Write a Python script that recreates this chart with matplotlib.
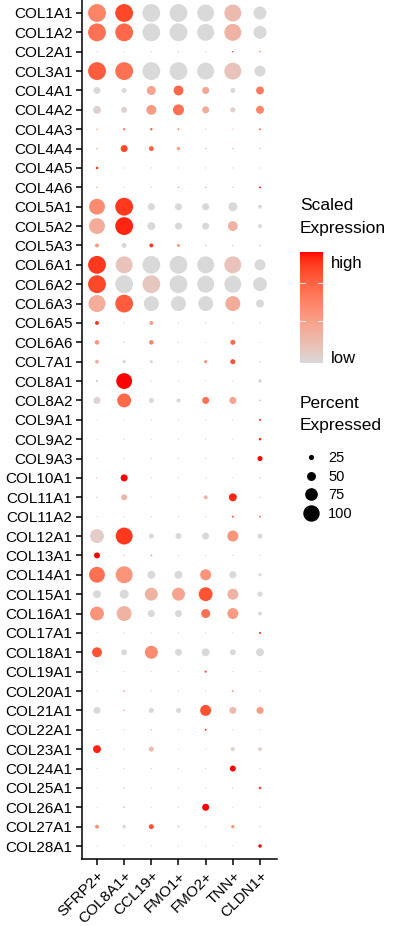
import numpy as np
import matplotlib
matplotlib.use("Agg")
import matplotlib.pyplot as plt
from matplotlib.colors import ListedColormap
from matplotlib.lines import Line2D

plt.rcParams['font.family'] = ['Liberation Sans', 'DejaVu Sans']

clusters = ["SFRP2+", "COL8A1+", "CCL19+", "FMO1+", "FMO2+", "TNN+", "CLDN1+"]
genes = ["COL1A1", "COL1A2", "COL2A1", "COL3A1", "COL4A1", "COL4A2", "COL4A3",
         "COL4A4", "COL4A5", "COL4A6", "COL5A1", "COL5A2", "COL5A3", "COL6A1",
         "COL6A2", "COL6A3", "COL6A5", "COL6A6", "COL7A1", "COL8A1", "COL8A2",
         "COL9A1", "COL9A2", "COL9A3", "COL10A1", "COL11A1", "COL11A2", "COL12A1",
         "COL13A1", "COL14A1", "COL15A1", "COL16A1", "COL17A1", "COL18A1",
         "COL19A1", "COL20A1", "COL21A1", "COL22A1", "COL23A1", "COL24A1",
         "COL25A1", "COL26A1", "COL27A1", "COL28A1"]

# percent expressed, one row per gene (cluster order as above)
pct = [
    [99, 99, 99, 99, 94, 94, 72],
    [99, 99, 99, 99, 94, 94, 72],
    [6, 6, 6, 6, 6, 8, 8],
    [99, 99, 99, 99, 94, 94, 61],
    [39, 28, 50, 55, 39, 28, 44],
    [44, 33, 55, 61, 39, 28, 44],
    [8, 14, 14, 11, 6, 6, 11],
    [8, 39, 28, 19, 8, 8, 8],
    [14, 6, 6, 6, 6, 6, 6],
    [8, 6, 6, 8, 8, 6, 11],
    [88, 99, 39, 39, 39, 50, 22],
    [88, 99, 44, 39, 39, 55, 22],
    [22, 28, 22, 17, 8, 8, 8],
    [99, 94, 99, 99, 94, 94, 61],
    [99, 99, 99, 99, 94, 94, 77],
    [94, 99, 83, 83, 83, 83, 44],
    [22, 6, 22, 6, 6, 6, 6],
    [25, 8, 25, 8, 6, 28, 6],
    [22, 17, 17, 8, 17, 28, 8],
    [14, 88, 6, 6, 6, 6, 19],
    [39, 77, 28, 22, 39, 39, 11],
    [6, 6, 6, 6, 6, 6, 11],
    [6, 6, 6, 6, 6, 6, 14],
    [6, 6, 6, 6, 6, 6, 28],
    [8, 39, 6, 6, 6, 6, 8],
    [8, 33, 6, 6, 22, 44, 8],
    [6, 6, 6, 6, 6, 11, 11],
    [77, 94, 28, 33, 39, 61, 28],
    [33, 8, 11, 6, 6, 6, 6],
    [88, 94, 44, 44, 61, 39, 17],
    [44, 50, 72, 72, 77, 61, 28],
    [77, 83, 39, 39, 50, 61, 22],
    [6, 6, 6, 6, 6, 6, 11],
    [55, 33, 72, 39, 44, 33, 44],
    [6, 6, 6, 6, 11, 6, 6],
    [6, 8, 6, 6, 6, 8, 6],
    [39, 11, 28, 28, 61, 39, 39],
    [6, 6, 8, 6, 11, 6, 6],
    [44, 8, 28, 6, 6, 22, 22],
    [6, 6, 6, 6, 6, 33, 6],
    [6, 8, 6, 6, 6, 8, 14],
    [6, 11, 6, 6, 39, 6, 6],
    [22, 19, 28, 11, 8, 19, 8],
    [6, 6, 6, 6, 6, 6, 19],
]

# scaled expression 0 (low) .. 1 (high)
expr = [
    [.55, .85, 0, 0, 0, .2, 0],
    [.65, .7, 0, 0, 0, .25, 0],
    [.3, .3, .3, .5, .3, .9, .7],
    [.75, .65, 0, 0, 0, .15, 0],
    [0, 0, .35, .7, .35, 0, .6],
    [.05, .05, .4, .65, .3, .05, .55],
    [.4, .5, .7, .5, .3, .3, .6],
    [.3, .85, .7, .4, .2, .2, .2],
    [.9, .3, .3, .3, .3, .3, .3],
    [.4, .2, .3, .4, .3, .3, .9],
    [.5, .9, 0, 0, 0, 0, 0],
    [.3, .95, 0, 0, 0, .25, 0],
    [.4, 0, .9, .4, .2, .2, .2],
    [.9, .15, 0, 0, 0, .15, 0],
    [.85, 0, .12, 0, 0, 0, 0],
    [.3, .75, 0, 0, 0, .3, 0],
    [.9, .2, .4, .2, .2, .2, .2],
    [.45, .1, .55, .1, .1, .7, .1],
    [.25, .05, .05, .05, .5, .8, .1],
    [.05, 1, .1, .1, .1, .1, .05],
    [.03, .7, 0, 0, .65, .35, .05],
    [.2, .2, .2, .2, .2, .2, .95],
    [.2, .2, .2, .2, .2, .2, .95],
    [.2, .2, .2, .2, .2, .2, 1],
    [.2, 1, .2, .2, .2, .2, .2],
    [.1, .25, .1, .1, .25, .95, .1],
    [.2, .2, .2, .2, .2, .8, .6],
    [.08, .9, 0, 0, 0, .45, 0],
    [1, .1, .3, .2, .2, .2, .2],
    [.65, .45, 0, 0, .45, 0, 0],
    [0, 0, .25, .35, .8, .25, 0],
    [.45, .25, 0, 0, .65, .4, 0],
    [.2, .2, .2, .2, .2, .2, .95],
    [.8, 0, .5, 0, 0, 0, 0],
    [.2, .2, .2, .2, .9, .2, .2],
    [.2, .6, .2, .2, .2, .8, .2],
    [0, .1, 0, 0, .8, .2, .4],
    [.2, .2, .2, .2, .85, .2, .2],
    [.95, .1, .2, .1, .1, .05, .05],
    [.2, .2, .2, .2, .2, 1, .2],
    [.2, .2, .2, .2, .2, .1, .9],
    [.2, .1, .2, .2, 1, .2, .2],
    [.45, .05, .8, .1, .1, .4, .1],
    [.2, .2, .2, .2, .2, .2, 1],
]

legend_pct = [25, 50, 75, 100]

M = np.array([[0.4124, 0.3576, 0.1805],
              [0.2126, 0.7152, 0.0722],
              [0.0193, 0.1192, 0.9505]])
WHITE = np.array([0.95047, 1.0, 1.08883])


def rgb2lab(rgb):
    c = np.asarray(rgb, float)
    lin = np.where(c <= 0.04045, c / 12.92, ((c + 0.055) / 1.055) ** 2.4)
    xyz = M @ lin / WHITE
    f = np.where(xyz > 0.008856, np.cbrt(xyz), 7.787 * xyz + 16 / 116)
    return np.array([116 * f[1] - 16, 500 * (f[0] - f[1]), 200 * (f[1] - f[2])])


def lab2rgb(lab):
    L, a, b = lab
    fy = (L + 16) / 116
    f = np.array([fy + a / 500, fy, fy - b / 200])
    xyz = np.where(f > 0.2069, f ** 3, (f - 16 / 116) / 7.787) * WHITE
    lin = np.linalg.solve(M, xyz)
    c = np.where(lin <= 0.0031308, 12.92 * lin, 1.055 * np.clip(lin, 0, None) ** (1 / 2.4) - 0.055)
    return np.clip(c, 0, 1)


def lab_cmap(c0, c1, n=256):
    l0, l1 = rgb2lab(c0), rgb2lab(c1)
    cols = [lab2rgb(l0 + (l1 - l0) * t) for t in np.linspace(0, 1, n)]
    return ListedColormap(cols)


def dot_size(p, k=0.18):
    # diameter in px -> marker area in pt^2 (dpi 100)
    d = np.asarray(p) * k * 72 / 100
    return d ** 2


def main():
    cmap = lab_cmap([0.85, 0.85, 0.85], [1, 0, 0])
    fig = plt.figure(figsize=(3.96, 9.26), dpi=100)
    ax = fig.add_axes([82 / 396, 1 - 859 / 926, 195 / 396, 859 / 926])

    P = np.array(pct, dtype=float)
    E = np.array(expr, dtype=float)
    yy, xx = np.meshgrid(np.arange(len(genes)), np.arange(len(clusters)), indexing="ij")
    ax.scatter(xx.ravel(), yy.ravel(), s=dot_size(P.ravel()), c=E.ravel(),
               cmap=cmap, vmin=0, vmax=1, linewidths=0)

    ax.set_xlim(-0.552, 6.626)
    ax.set_ylim(43.67, -0.67)
    ax.set_yticks(range(len(genes)))
    ax.set_yticklabels(genes, fontsize=11)
    ax.set_xticks(range(len(clusters)))
    ax.set_xticklabels(clusters, fontsize=11, rotation=45, ha="right",
                       rotation_mode="anchor")
    for s in ["top", "right"]:
        ax.spines[s].set_visible(False)
    for s in ["left", "bottom"]:
        ax.spines[s].set_linewidth(1.1)
    ax.tick_params(length=4, width=1.1, pad=3)

    # colour legend
    fig.text(300 / 396, 1 - 205 / 926, "Scaled", fontsize=12.5, va="center")
    fig.text(300 / 396, 1 - 228 / 926, "Expression", fontsize=12.5, va="center")
    cax = fig.add_axes([300 / 396, 1 - 363 / 926, 23 / 396, 111 / 926])
    grad = np.linspace(1, 0, 256).reshape(-1, 1)
    cax.imshow(grad, cmap=cmap, aspect="auto", extent=[0, 1, 0, 1])
    for t in [0.38, 0.72]:
        cax.plot([0, 0.2], [t, t], color="white", lw=0.8, alpha=0.8)
        cax.plot([0.8, 1], [t, t], color="white", lw=0.8, alpha=0.8)
    cax.set_xlim(0, 1)
    cax.set_ylim(0, 1)
    cax.set_xticks([])
    cax.yaxis.tick_right()
    cax.set_yticks([0.05, 0.91])
    cax.set_yticklabels(["low", "high"], fontsize=12)
    cax.tick_params(axis="y", length=0, pad=6)
    for s in cax.spines.values():
        s.set_visible(False)

    # size legend
    fig.text(300 / 396, 1 - 404 / 926, "Percent", fontsize=12.5, va="center")
    fig.text(300 / 396, 1 - 426 / 926, "Expressed", fontsize=12.5, va="center")
    handles = [Line2D([], [], ls="", marker="o", color="black",
                      markersize=np.sqrt(dot_size(p, 0.15))) for p in legend_pct]
    fig.legend(handles, [str(p) for p in legend_pct], loc="upper left",
               bbox_to_anchor=(302 / 396, 1 - 451 / 926), frameon=False,
               fontsize=10.5, handletextpad=0.6, labelspacing=0.32,
               handlelength=1.2, borderpad=0, borderaxespad=0)

    fig.savefig("out.png", dpi=100)


if __name__ == '__main__':
    main()
